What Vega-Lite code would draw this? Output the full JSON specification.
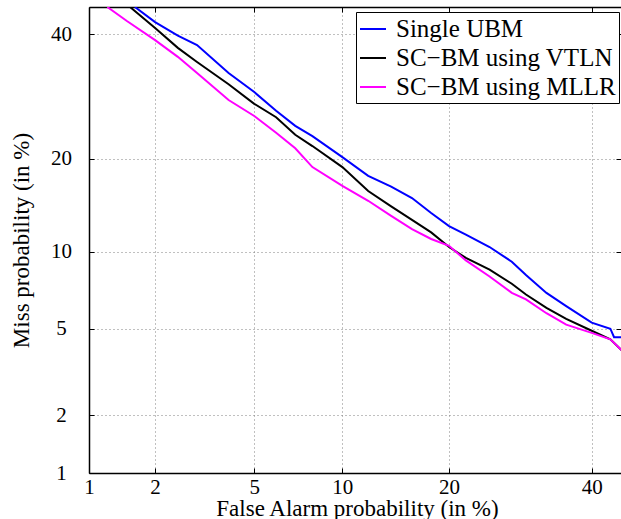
{
  "$schema": "https://vega.github.io/schema/vega-lite/v6.json",
  "width": 532,
  "height": 466,
  "autosize": {"type": "none"},
  "padding": {"left": 89, "top": 7, "right": 0, "bottom": 46},
  "background": "white",
  "config": {"view": {"stroke": null}, "font": "Liberation Serif"},
  "data": {"values": [
    {"s": "Single UBM", "fa": 1.63, "miss": 45},
    {"s": "Single UBM", "fa": 2, "miss": 42.2},
    {"s": "Single UBM", "fa": 2.5, "miss": 39.7},
    {"s": "Single UBM", "fa": 3, "miss": 38.0},
    {"s": "Single UBM", "fa": 4, "miss": 33.1},
    {"s": "Single UBM", "fa": 5, "miss": 29.9},
    {"s": "Single UBM", "fa": 6, "miss": 26.9},
    {"s": "Single UBM", "fa": 7, "miss": 24.6},
    {"s": "Single UBM", "fa": 8, "miss": 23.1},
    {"s": "Single UBM", "fa": 10, "miss": 20.2},
    {"s": "Single UBM", "fa": 12, "miss": 17.8},
    {"s": "Single UBM", "fa": 14, "miss": 16.5},
    {"s": "Single UBM", "fa": 16, "miss": 15.2},
    {"s": "Single UBM", "fa": 18, "miss": 13.6},
    {"s": "Single UBM", "fa": 20, "miss": 12.3},
    {"s": "Single UBM", "fa": 22, "miss": 11.5},
    {"s": "Single UBM", "fa": 25, "miss": 10.4},
    {"s": "Single UBM", "fa": 28, "miss": 9.2},
    {"s": "Single UBM", "fa": 30, "miss": 8.2},
    {"s": "Single UBM", "fa": 33, "miss": 7.0},
    {"s": "Single UBM", "fa": 36, "miss": 6.2},
    {"s": "Single UBM", "fa": 40, "miss": 5.3},
    {"s": "Single UBM", "fa": 43, "miss": 5.0},
    {"s": "Single UBM", "fa": 43.6, "miss": 4.6},
    {"s": "Single UBM", "fa": 45, "miss": 4.6},
    {"s": "SC−BM using VTLN", "fa": 1.55, "miss": 45},
    {"s": "SC−BM using VTLN", "fa": 2, "miss": 41.1},
    {"s": "SC−BM using VTLN", "fa": 2.5, "miss": 37.5},
    {"s": "SC−BM using VTLN", "fa": 3, "miss": 35.0},
    {"s": "SC−BM using VTLN", "fa": 4, "miss": 31.2},
    {"s": "SC−BM using VTLN", "fa": 5, "miss": 28.0},
    {"s": "SC−BM using VTLN", "fa": 6, "miss": 25.9},
    {"s": "SC−BM using VTLN", "fa": 7, "miss": 23.3},
    {"s": "SC−BM using VTLN", "fa": 8, "miss": 21.7},
    {"s": "SC−BM using VTLN", "fa": 10, "miss": 18.9},
    {"s": "SC−BM using VTLN", "fa": 12, "miss": 16.0},
    {"s": "SC−BM using VTLN", "fa": 14, "miss": 14.3},
    {"s": "SC−BM using VTLN", "fa": 16, "miss": 12.9},
    {"s": "SC−BM using VTLN", "fa": 18, "miss": 11.7},
    {"s": "SC−BM using VTLN", "fa": 20, "miss": 10.4},
    {"s": "SC−BM using VTLN", "fa": 22, "miss": 9.5},
    {"s": "SC−BM using VTLN", "fa": 25, "miss": 8.6},
    {"s": "SC−BM using VTLN", "fa": 28, "miss": 7.6},
    {"s": "SC−BM using VTLN", "fa": 30, "miss": 6.9},
    {"s": "SC−BM using VTLN", "fa": 33, "miss": 6.1},
    {"s": "SC−BM using VTLN", "fa": 36, "miss": 5.5},
    {"s": "SC−BM using VTLN", "fa": 40, "miss": 4.9},
    {"s": "SC−BM using VTLN", "fa": 43, "miss": 4.5},
    {"s": "SC−BM using VTLN", "fa": 45, "miss": 4.0},
    {"s": "SC−BM using MLLR", "fa": 1.22, "miss": 45},
    {"s": "SC−BM using MLLR", "fa": 1.5, "miss": 42.4},
    {"s": "SC−BM using MLLR", "fa": 2, "miss": 38.9},
    {"s": "SC−BM using MLLR", "fa": 2.5, "miss": 35.9},
    {"s": "SC−BM using MLLR", "fa": 3, "miss": 33.1},
    {"s": "SC−BM using MLLR", "fa": 4, "miss": 28.6},
    {"s": "SC−BM using MLLR", "fa": 5, "miss": 26.1},
    {"s": "SC−BM using MLLR", "fa": 6, "miss": 23.6},
    {"s": "SC−BM using MLLR", "fa": 7, "miss": 21.4},
    {"s": "SC−BM using MLLR", "fa": 8, "miss": 18.9},
    {"s": "SC−BM using MLLR", "fa": 10, "miss": 16.6},
    {"s": "SC−BM using MLLR", "fa": 12, "miss": 14.9},
    {"s": "SC−BM using MLLR", "fa": 14, "miss": 13.3},
    {"s": "SC−BM using MLLR", "fa": 16, "miss": 12.0},
    {"s": "SC−BM using MLLR", "fa": 18, "miss": 11.1},
    {"s": "SC−BM using MLLR", "fa": 20, "miss": 10.5},
    {"s": "SC−BM using MLLR", "fa": 22, "miss": 9.3},
    {"s": "SC−BM using MLLR", "fa": 25, "miss": 8.1},
    {"s": "SC−BM using MLLR", "fa": 28, "miss": 7.0},
    {"s": "SC−BM using MLLR", "fa": 30, "miss": 6.6},
    {"s": "SC−BM using MLLR", "fa": 33, "miss": 5.8},
    {"s": "SC−BM using MLLR", "fa": 36, "miss": 5.2},
    {"s": "SC−BM using MLLR", "fa": 40, "miss": 4.8},
    {"s": "SC−BM using MLLR", "fa": 43, "miss": 4.5},
    {"s": "SC−BM using MLLR", "fa": 45, "miss": 4.0}
  ]},
  "transform": [
    {"calculate": "quantileNormal(datum.fa / 100)", "as": "fz"},
    {"calculate": "quantileNormal(datum.miss / 100)", "as": "mz"}
  ],
  "layer": [
    {
      "mark": {"type": "line", "strokeWidth": 2, "clip": true},
      "encoding": {
        "x": {
          "field": "fz", "type": "quantitative",
          "scale": {"domain": [-2.3263, -0.1325], "nice": false, "zero": false},
          "axis": {
            "orient": "bottom",
            "values": [-2.3263, -2.0537, -1.6449, -1.2816, -0.8416, -0.2533],
            "labelExpr": "format(cumulativeNormal(datum.value) * 100, '.0f')",
            "labelFlush": false, "labelOverlap": false,
            "labelFont": "Liberation Serif", "labelFontSize": 21, "labelColor": "black",
            "labelPadding": 8,
            "grid": true, "gridDash": [1, 3], "gridColor": "#808080", "gridWidth": 1,
            "domain": true, "domainColor": "black", "domainWidth": 1.5,
            "ticks": true, "tickSize": -5, "tickColor": "black", "tickWidth": 1,
            "title": "False Alarm probability (in %)",
            "titleFont": "Liberation Serif", "titleFontSize": 23, "titleFontWeight": "normal", "titleColor": "black",
            "titleX": 268, "titleY": 42, "titleAlign": "center", "titleBaseline": "alphabetic", "titleAnchor": null
          }
        },
        "y": {
          "field": "mz", "type": "quantitative",
          "scale": {"domain": [-2.3263, -0.1257], "nice": false, "zero": false},
          "axis": {
            "orient": "left",
            "values": [-2.3263, -2.0537, -1.6449, -1.2816, -0.8416, -0.2533],
            "labelExpr": "format(cumulativeNormal(datum.value) * 100, '.0f')",
            "labelFlush": false, "labelOverlap": false,
            "labelFont": "Liberation Serif", "labelFontSize": 21, "labelColor": "black",
            "labelAlign": "center", "labelBaseline": "middle", "labelPadding": 33,
            "grid": true, "gridDash": [1, 3], "gridColor": "#808080", "gridWidth": 1,
            "domain": true, "domainColor": "black", "domainWidth": 1.5,
            "ticks": true, "tickSize": -5, "tickColor": "black", "tickWidth": 1,
            "title": "Miss probability (in %)",
            "titleFont": "Liberation Serif", "titleFontSize": 23, "titleFontWeight": "normal", "titleColor": "black",
            "titleX": -68, "titleY": 233, "titleAngle": -90, "titleAlign": "center", "titleBaseline": "middle", "titleAnchor": null
          }
        },
        "color": {
          "field": "s", "type": "nominal",
          "scale": {"domain": ["Single UBM", "SC−BM using VTLN", "SC−BM using MLLR"], "range": ["#0000ff", "#000000", "#ff00ff"]},
          "legend": {
            "orient": "none", "legendX": 267, "legendY": 5,
            "title": null,
            "symbolType": "stroke", "symbolSize": 676, "symbolStrokeWidth": 2,
            "labelFont": "Liberation Serif", "labelFontSize": 25, "labelColor": "black", "labelLimit": 400,
            "labelOffset": 9,
            "strokeColor": "black", "fillColor": "white", "padding": 3, "rowPadding": 2
          }
        }
      }
    },
    {
      "mark": {"type": "line", "opacity": 0},
      "encoding": {
        "x": {
          "field": "fz", "type": "quantitative",
          "axis": {
            "orient": "top",
            "values": [-2.3263, -2.0537, -1.6449, -1.2816, -0.8416, -0.2533],
            "labels": false, "grid": false, "title": null,
            "domain": true, "domainColor": "black", "domainWidth": 1.5,
            "ticks": true, "tickSize": -5, "tickColor": "black", "tickWidth": 1
          }
        },
        "y": {
          "field": "mz", "type": "quantitative",
          "axis": {
            "orient": "right",
            "values": [-2.3263, -2.0537, -1.6449, -1.2816, -0.8416, -0.2533],
            "labels": false, "grid": false, "title": null,
            "domain": false,
            "ticks": true, "tickSize": -5, "tickColor": "black", "tickWidth": 1
          }
        },
        "detail": {"field": "s", "type": "nominal"}
      }
    }
  ],
  "resolve": {"axis": {"x": "independent", "y": "independent"}}
}
